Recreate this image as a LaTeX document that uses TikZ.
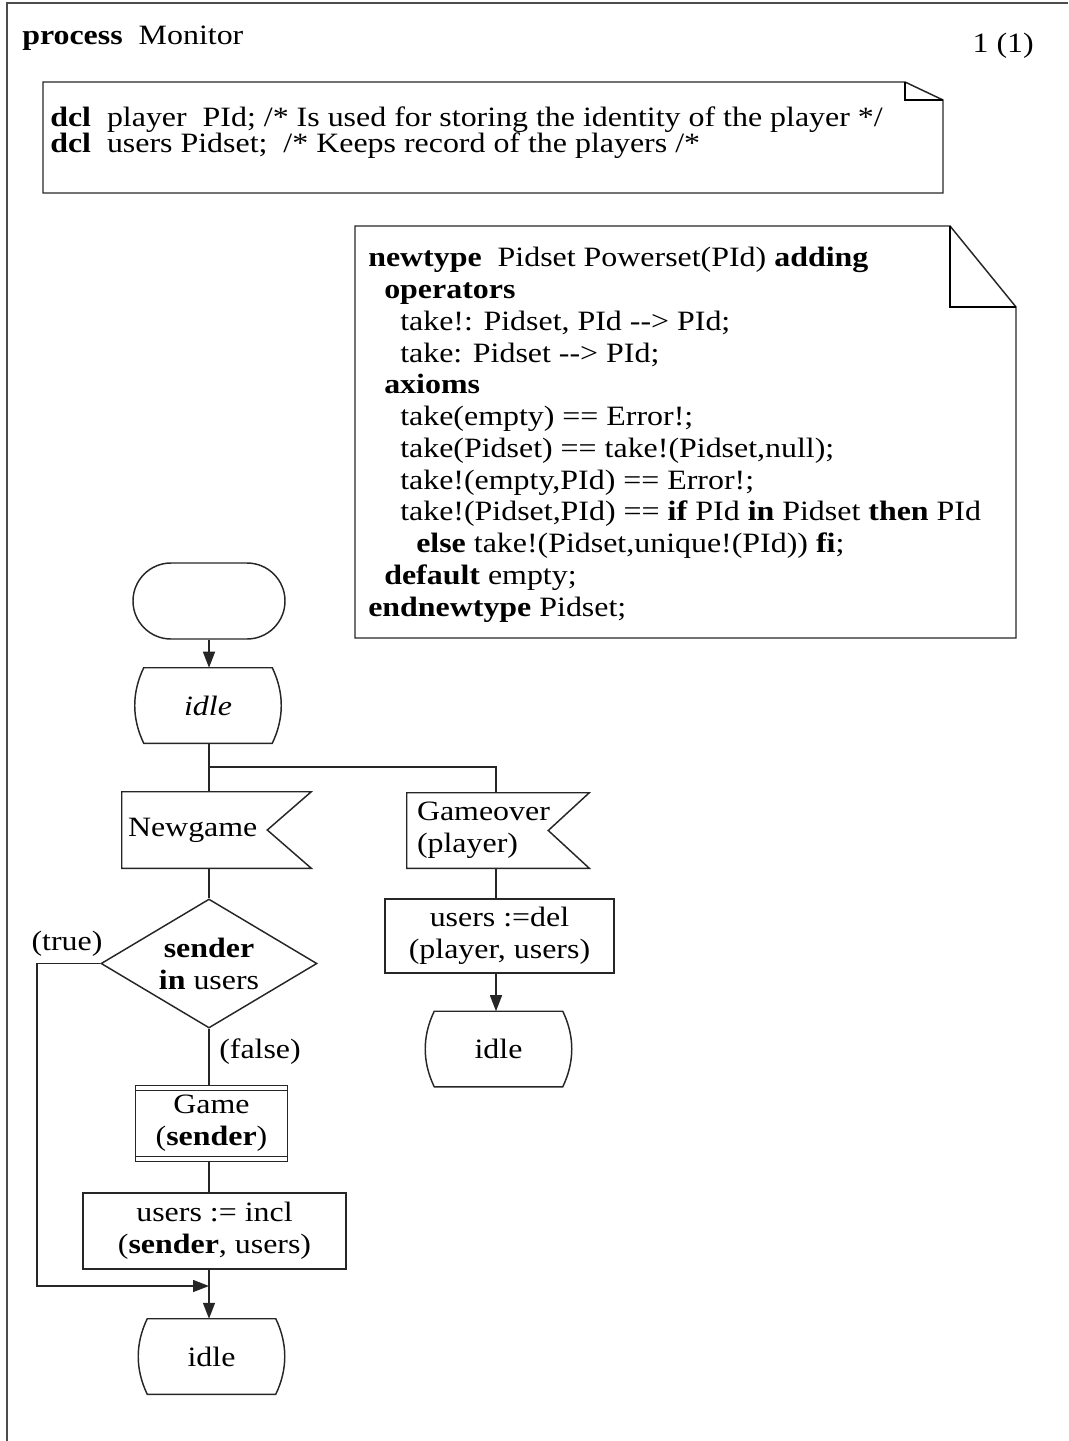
\documentclass[tikz,border=0pt]{standalone}
\usepackage{fontspec}
\setmainfont{Liberation Serif}[FakeStretch=1.14]
\usetikzlibrary{shapes.geometric,shapes.misc,arrows.meta,calc}

% "-->" without the TeX en-dash ligature
\newcommand\sdlto{\mbox{-}\mbox{-}>}

% state symbol: flat top and bottom, sides bowed outwards
\newcommand\statepath[1]{%
  \draw[line] ($(#1.north west)+(9,0)$) -- ($(#1.north east)+(-9,0)$)
    .. controls ($(#1.north east)+(3,25)$) and ($(#1.south east)+(3,-25)$) .. ($(#1.south east)+(-9,0)$)
    -- ($(#1.south west)+(9,0)$)
    .. controls ($(#1.south west)+(-3,-25)$) and ($(#1.north west)+(-3,25)$) .. ($(#1.north west)+(9,0)$)
    -- cycle;}

% input signal symbol: box with a notch cut into its right side
\newcommand\signalpath[2]{%
  \draw[line] (#1.north west) -- (#1.north east) -- ($(#1.east)+(-#2,0)$)
    -- (#1.south east) -- (#1.south west) -- cycle;}

\begin{document}
\begin{tikzpicture}[x=0.75pt,y=-0.75pt,
  every node/.style={font=\fontsize{21}{24}\selectfont, inner sep=0pt},
  line/.style={line width=1.1pt, draw=black!85},
  flow/.style={line, -{Triangle[length=12pt,width=9pt]}},
  startbox/.style={rounded rectangle, line, minimum width=114pt, minimum height=57pt},
  statebox/.style={rectangle, minimum width=109.5pt, minimum height=56.25pt},
  taskbox/.style={rectangle, line, align=center},
  decision/.style={diamond, line, align=center, aspect=1.67, minimum width=162pt, minimum height=96.75pt},
  label/.style={anchor=center}
]
\useasboundingbox (0,0) rectangle (1068,1441);

% page frame
\draw[line width=1.5pt, draw=black!70] (7,1441) -- (7,3) -- (1068,3);

% heading
\node[anchor=base west] (title) at (22,45) {\textbf{process}~ Monitor};
\node[anchor=base east] (page) at (1034,53) {1 (1)};

% declarations (the node's base is the baseline of its last line)
\draw[line] (43,82) -- (905,82) -- (943,100) -- (943,193) -- (43,193) -- cycle;
\draw[line width=1.5pt] (905,82) -- (905,100) -- (943,100);
\node[anchor=base west, align=left, font=\fontsize{21}{20.25}\selectfont] (dcltext) at (50,153)
  {\textbf{dcl}~ player~ PId; /* Is used for storing the identity of the player */\\
   \textbf{dcl}~ users Pidset;~ /* Keeps record of the players /*};

% data type definition
\draw[line] (355,226) -- (950,226) -- (1016,307) -- (1016,638) -- (355,638) -- cycle;
\draw[line width=1.5pt] (950,226) -- (950,307) -- (1016,307);
\node[anchor=base west, align=left, font=\fontsize{21}{23.8}\selectfont] (typetext) at (368,616)
  {\textbf{newtype}~ Pidset Powerset(PId) \textbf{adding}\\
   \hspace*{12pt}\textbf{operators}\\
   \hspace*{24pt}take!: Pidset, PId \sdlto{} PId;\\
   \hspace*{24pt}take: Pidset \sdlto{} PId;\\
   \hspace*{12pt}\textbf{axioms}\\
   \hspace*{24pt}take(empty) == Error!;\\
   \hspace*{24pt}take(Pidset) == take!(Pidset,null);\\
   \hspace*{24pt}take!(empty,PId) == Error!;\\
   \hspace*{24pt}take!(Pidset,PId) == \textbf{if} PId \textbf{in} Pidset \textbf{then} PId\\
   \hspace*{36pt}\textbf{else} take!(Pidset,unique!(PId)) \textbf{fi};\\
   \hspace*{12pt}\textbf{default} empty;\\
   \textbf{endnewtype} Pidset;};

% process graph
\coordinate (spine) at (209,0);
\coordinate (rspine) at (496,0);

\node[startbox] (start) at (209,601) {};
\node[statebox] (idle1) at (208,705.5) {\textit{idle}};
\statepath{idle1}
\coordinate (branch) at (209,767);

\node[rectangle, minimum width=141.75pt, minimum height=57pt, text width=132.75pt,
      inner xsep=4.5pt, align=left] (newgame) at (216.5,830) {Newgame};
\signalpath{newgame}{44}

\node[rectangle, minimum width=136.5pt, minimum height=56.25pt, text width=121.5pt,
      inner xsep=7.5pt, align=left] (gameover) at (498,830.5) {Gameover\\(player)};
\signalpath{gameover}{41}

\node[decision] (check) at (209,963.5) {\textbf{sender}\\\textbf{in} users};

\node[rectangle, minimum width=113.25pt, minimum height=56.25pt, align=center] (game) at (211.5,1123.5)
  {Game\\(\textbf{sender})};
\draw[line] (game.north west) rectangle (game.south east);
\draw[line] ($(game.north west)+(0,5)$) -- ($(game.north east)+(0,5)$);
\draw[line] ($(game.south west)+(0,-5)$) -- ($(game.south east)+(0,-5)$);

\node[taskbox, minimum width=197.25pt, minimum height=57pt] (incl) at (214.5,1231)
  {users := incl\\(\textbf{sender}, users)};

\node[statebox] (idle3) at (211.5,1356.5) {idle};
\statepath{idle3}

\node[taskbox, minimum width=171.75pt, minimum height=55.5pt] (del) at (499.5,936)
  {users :=del\\(player, users)};

\node[statebox] (idle2) at (498.5,1049) {idle};
\statepath{idle2}

\coordinate (tcorner) at (37,1286);

% connectors
\draw[flow] (spine |- start.south) -- (spine |- idle1.north);
\draw[line] (spine |- idle1.south) -- (branch) -| (rspine |- gameover.north);
\draw[line] (branch) -- (spine |- newgame.north);
\draw[line] (spine |- newgame.south) -- (check.north);
\draw[line] (check.south) -- (spine |- game.north);
\draw[line] (spine |- game.south) -- (spine |- incl.north);
\draw[flow] (spine |- incl.south) -- (spine |- idle3.north);
\draw[flow] (check.west) -| (tcorner) -- (spine |- tcorner);
\draw[line] (rspine |- gameover.south) -- (rspine |- del.north);
\draw[flow] (rspine |- del.south) -- (rspine |- idle2.north);

% decision answers
\node[label] (truelbl) at (67,944) {(true)};
\node[anchor=west] (falselbl) at (219,1052) {(false)};
\end{tikzpicture}
\end{document}
